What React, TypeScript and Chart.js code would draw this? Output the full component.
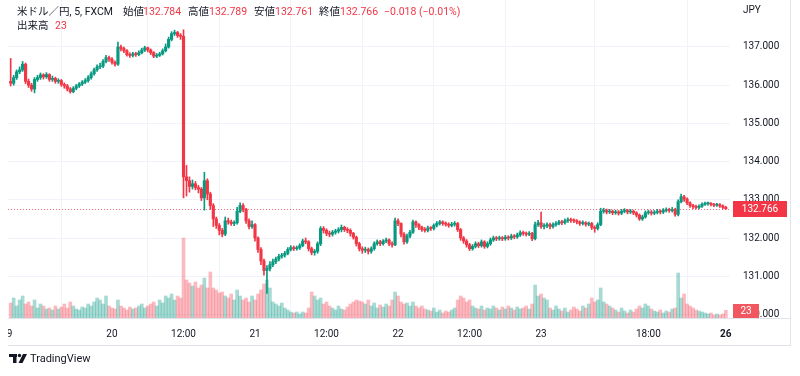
import React, { useEffect, useRef } from "react";
import { Chart, registerables } from "chart.js";

Chart.register(...registerables);

// ---- data (30-minute candles, USD/JPY, FXCM) ----
const firstOpen = 136.1;
const closes = [
  136.05, 136.2, 136.35, 136.4, 136.55, 136.1, 136.0, 135.9, 136.15, 136.2,
  136.27, 136.22, 136.28, 136.15, 136.18, 136.1, 136.12, 136.02, 135.98, 135.9,
  135.83, 135.92, 135.98, 136.03, 136.08, 136.12, 136.2, 136.3, 136.4, 136.48,
  136.5, 136.62, 136.72, 136.68, 136.6, 136.55, 137.0, 136.96, 136.9, 136.8,
  136.78, 136.82, 136.8, 136.85, 136.92, 136.98, 136.92, 136.85, 136.76, 136.78,
  136.82, 136.9, 137.0, 137.2, 137.35, 137.38, 137.3, 137.28, 133.6, 133.5,
  133.35, 133.42, 133.32, 133.28, 133.05, 133.5, 133.15, 132.85, 132.5, 132.33,
  132.2, 132.1, 132.45, 132.42, 132.38, 132.4, 132.7, 132.85, 132.75, 132.45,
  132.3, 132.35, 132.0, 131.7, 131.4, 131.15, 131.2, 131.3, 131.38, 131.45,
  131.52, 131.55, 131.6, 131.7, 131.75, 131.72, 131.74, 131.8, 131.92, 131.9,
  131.72, 131.62, 131.65, 131.85, 132.25, 132.2, 132.12, 132.1, 132.15, 132.18,
  132.22, 132.28, 132.22, 132.2, 132.12, 132.02, 131.85, 131.72, 131.68, 131.7,
  131.65, 131.72, 131.85, 131.9, 131.85, 131.92, 131.95, 131.85, 131.82, 132.45,
  132.38, 132.1, 131.9, 132.05, 132.15, 132.42, 132.35, 132.28, 132.22, 132.2,
  132.26, 132.25, 132.33, 132.38, 132.42, 132.38, 132.36, 132.33, 132.36, 132.38,
  132.22, 132.0, 131.92, 131.82, 131.72, 131.78, 131.85, 131.8, 131.9, 131.78,
  131.85, 131.95, 132.0, 131.98, 132.0, 131.98, 132.02, 132.0, 132.05, 132.03,
  132.08, 132.14, 132.12, 132.1, 132.12, 131.98, 132.35, 132.4, 132.3, 132.32,
  132.35, 132.3, 132.35, 132.38, 132.42, 132.4, 132.45, 132.48, 132.46, 132.45,
  132.42, 132.38, 132.4, 132.36, 132.38, 132.28, 132.25, 132.35, 132.7, 132.72,
  132.68, 132.7, 132.66, 132.68, 132.65, 132.7, 132.72, 132.68, 132.7, 132.66,
  132.6, 132.5, 132.55, 132.66, 132.68, 132.65, 132.67, 132.7, 132.68, 132.72,
  132.74, 132.72, 132.75, 132.62, 132.95, 133.08, 133.02, 132.92, 132.85, 132.82,
  132.8, 132.83, 132.88, 132.9, 132.9, 132.88, 132.86, 132.87, 132.84, 132.8,
  132.766,
];
const highs = [
  136.7, 136.26, 136.4, 136.48, 136.62, 136.58, 136.16, 136.05, 136.2, 136.26,
  136.32, 136.3, 136.33, 136.3, 136.24, 136.21, 136.17, 136.15, 136.06, 136.02,
  135.94, 135.96, 136.02, 136.07, 136.12, 136.17, 136.25, 136.35, 136.45, 136.53,
  136.58, 136.67, 136.78, 136.76, 136.72, 136.64, 137.13, 137.05, 137.0, 136.93,
  136.85, 136.86, 136.86, 136.9, 136.97, 137.02, 137.0, 136.95, 136.88, 136.83,
  136.86, 136.95, 137.08, 137.26, 137.4, 137.44, 137.41, 137.35, 137.45, 133.9,
  133.6, 133.52, 133.48, 133.38, 133.32, 133.72, 133.55, 133.2, 132.9, 132.55,
  132.38, 132.25, 132.55, 132.52, 132.47, 132.45, 132.8, 132.92, 132.9, 132.78,
  132.5, 132.45, 132.38, 132.03, 131.75, 131.45, 131.28, 131.38, 131.45, 131.5,
  131.57, 131.6, 131.65, 131.75, 131.8, 131.79, 131.79, 131.85, 131.97, 132.0,
  131.93, 131.76, 131.7, 131.9, 132.3, 132.3, 132.24, 132.18, 132.2, 132.23,
  132.27, 132.34, 132.31, 132.27, 132.24, 132.15, 132.05, 131.89, 131.77, 131.76,
  131.74, 131.77, 131.9, 131.95, 131.94, 131.96, 132.0, 131.98, 131.9, 132.52,
  132.5, 132.4, 132.14, 132.1, 132.2, 132.47, 132.45, 132.38, 132.31, 132.27,
  132.31, 132.3, 132.37, 132.43, 132.46, 132.45, 132.42, 132.4, 132.41, 132.43,
  132.41, 132.25, 132.04, 131.96, 131.86, 131.83, 131.9, 131.89, 131.95, 131.93,
  131.9, 132.0, 132.05, 132.04, 132.05, 132.04, 132.07, 132.06, 132.1, 132.09,
  132.13, 132.19, 132.18, 132.16, 132.17, 132.15, 132.42, 132.46, 132.68, 132.38,
  132.4, 132.39, 132.4, 132.43, 132.46, 132.46, 132.5, 132.53, 132.52, 132.5,
  132.48, 132.45, 132.45, 132.43, 132.42, 132.41, 132.32, 132.4, 132.78, 132.78,
  132.76, 132.75, 132.73, 132.73, 132.72, 132.75, 132.77, 132.75, 132.75, 132.73,
  132.69, 132.63, 132.6, 132.71, 132.73, 132.72, 132.72, 132.75, 132.74, 132.77,
  132.79, 132.78, 132.8, 132.78, 133.0, 133.15, 133.12, 133.05, 132.95, 132.88,
  132.86, 132.87, 132.92, 132.94, 132.94, 132.93, 132.91, 132.91, 132.9, 132.87,
  132.83,
];
const lows = [
  135.98, 136.0, 136.15, 136.3, 136.36, 136.04, 135.94, 135.84, 135.8, 136.1,
  136.15, 136.16, 136.18, 136.1, 136.1, 136.05, 136.05, 135.97, 135.92, 135.85,
  135.79, 135.8, 135.88, 135.94, 135.99, 136.04, 136.08, 136.16, 136.26, 136.36,
  136.43, 136.46, 136.58, 136.62, 136.55, 136.5, 136.52, 136.9, 136.85, 136.76,
  136.73, 136.74, 136.75, 136.77, 136.82, 136.88, 136.87, 136.8, 136.72, 136.72,
  136.75, 136.79, 136.87, 136.97, 137.16, 137.3, 137.25, 137.2, 133.05, 133.1,
  133.2, 133.28, 133.26, 133.18, 132.98, 132.73, 133.0, 132.75, 132.3, 132.25,
  132.08, 132.03, 132.06, 132.36, 132.33, 132.32, 132.36, 132.66, 132.68, 132.38,
  132.24, 132.25, 131.92, 131.62, 131.3, 131.03, 130.55, 131.14, 131.25, 131.33,
  131.4, 131.47, 131.5, 131.56, 131.66, 131.67, 131.68, 131.7, 131.77, 131.85,
  131.66, 131.56, 131.55, 131.6, 131.8, 132.13, 132.06, 132.03, 132.05, 132.1,
  132.13, 132.16, 132.17, 132.14, 132.05, 131.97, 131.79, 131.66, 131.6, 131.62,
  131.58, 131.6, 131.68, 131.81, 131.8, 131.81, 131.88, 131.8, 131.76, 131.8,
  132.32, 132.03, 131.84, 131.86, 132.0, 132.12, 132.28, 132.22, 132.17, 132.15,
  132.16, 132.2, 132.21, 132.29, 132.34, 132.33, 132.31, 132.28, 132.29, 132.31,
  132.17, 131.94, 131.86, 131.76, 131.67, 131.68, 131.74, 131.75, 131.76, 131.73,
  131.74, 131.81, 131.91, 131.93, 131.94, 131.93, 131.94, 131.95, 131.96, 131.98,
  131.99, 132.04, 132.07, 132.05, 132.06, 131.93, 131.95, 132.3, 132.25, 132.24,
  132.27, 132.24, 132.26, 132.31, 132.34, 132.35, 132.36, 132.41, 132.41, 132.4,
  132.37, 132.33, 132.34, 132.31, 132.32, 132.22, 132.15, 132.21, 132.32, 132.65,
  132.63, 132.64, 132.61, 132.62, 132.6, 132.61, 132.66, 132.63, 132.64, 132.61,
  132.55, 132.46, 132.46, 132.52, 132.62, 132.6, 132.61, 132.63, 132.63, 132.64,
  132.68, 132.67, 132.68, 132.57, 132.58, 132.92, 132.96, 132.87, 132.8, 132.77,
  132.76, 132.76, 132.8, 132.85, 132.86, 132.84, 132.82, 132.83, 132.8, 132.76,
  132.75,
];
const volumes = [
  45, 60, 36, 54, 66, 42, 48, 36, 54, 30,
  42, 36, 27, 30, 24, 36, 27, 33, 42, 30,
  48, 36, 27, 24, 33, 30, 42, 36, 48, 60,
  54, 42, 66, 36, 30, 27, 54, 36, 30, 24,
  33, 27, 30, 36, 42, 30, 36, 42, 48, 36,
  54, 45, 66, 60, 72, 54, 66, 60, 240, 114,
  105, 96, 108, 90, 99, 120, 90, 138, 90, 84,
  75, 78, 66, 60, 72, 54, 84, 66, 54, 60,
  48, 66, 54, 72, 84, 102, 114, 90, 48, 42,
  36, 45, 30, 24, 18, 15, 18, 12, 18, 15,
  30, 78, 66, 54, 60, 42, 48, 36, 30, 24,
  36, 27, 24, 33, 42, 48, 54, 51, 48, 42,
  54, 36, 45, 30, 39, 33, 42, 36, 54, 78,
  66, 48, 42, 45, 36, 48, 36, 30, 36, 27,
  24, 21, 30, 18, 24, 15, 21, 18, 24, 30,
  54, 66, 60, 48, 54, 36, 30, 27, 36, 24,
  30, 27, 36, 30, 24, 33, 27, 36, 30, 24,
  33, 27, 30, 36, 27, 42, 99, 66, 72, 60,
  54, 30, 24, 36, 27, 21, 30, 18, 24, 33,
  27, 21, 36, 30, 42, 60, 48, 54, 90, 48,
  42, 36, 30, 24, 18, 30, 21, 15, 24, 18,
  27, 36, 30, 42, 36, 27, 21, 18, 24, 15,
  21, 18, 27, 30, 135, 60, 72, 42, 36, 30,
  24, 21, 18, 15, 12, 15, 9, 12, 9, 12,
  23,
];

// time axis (bar index of each label) and price axis ticks
const timeTickIndex = [0, 34, 58, 82, 106, 130, 154, 178, 214, 240];
const timeTickLabels = ["19", "20", "12:00", "21", "12:00", "22", "12:00", "23", "18:00", "26"];
const priceTicks = [130, 131, 132, 133, 134, 135, 136, 137];

// legend values
const symbolTitle = "米ドル／円, 5, FXCM";
const legendOpen = "132.784";
const legendHigh = "132.789";
const legendLow = "132.761";
const legendClose = "132.766";
const legendChange = "−0.018 (−0.01%)";
const lastPrice = 132.766;

const UP = "#089981";
const DOWN = "#f23645";
const VOL_UP = "rgba(8,153,129,0.36)";
const VOL_DOWN = "rgba(242,54,69,0.34)";
const TEXT = "#131722";
const GRID = "#f0f3fa";
const BORDER = "#e0e3eb";
const FONT = "Roboto, 'Noto Sans CJK JP', sans-serif";

export default function App() {
  const ref = useRef<HTMLCanvasElement | null>(null);

  useEffect(() => {
    const opens = closes.map((c, i) => (i === 0 ? firstOpen : closes[i - 1]));
    const isUp = closes.map((c, i) => c >= opens[i]);
    const colors = isUp.map((u) => (u ? UP : DOWN));
    const volColors = isUp.map((u) => (u ? VOL_UP : VOL_DOWN));

    const overlay = {
      id: "tvOverlay",
      beforeDatasetsDraw(chart: any) {
        const { ctx, chartArea, scales } = chart;
        const y = Math.round(scales.y.getPixelForValue(lastPrice)) + 0.5;
        ctx.save();
        ctx.strokeStyle = "rgba(242,54,69,0.75)";
        ctx.lineWidth = 1;
        ctx.setLineDash([1, 2]);
        ctx.beginPath();
        ctx.moveTo(chartArea.left, y);
        ctx.lineTo(chartArea.right, y);
        ctx.stroke();
        ctx.restore();
      },
      afterDraw(chart: any) {
        const { ctx, chartArea, scales } = chart;
        ctx.save();
        // borders
        ctx.strokeStyle = BORDER;
        ctx.lineWidth = 1;
        ctx.beginPath();
        ctx.moveTo(chartArea.left, chartArea.bottom + 0.5);
        ctx.lineTo(791, chartArea.bottom + 0.5);
        ctx.moveTo(790.5, 0);
        ctx.lineTo(790.5, 346);
        ctx.moveTo(8, 345.5);
        ctx.lineTo(791, 345.5);
        ctx.stroke();

        // price axis labels
        ctx.fillStyle = TEXT;
        ctx.font = `10px ${FONT}`;
        ctx.textBaseline = "middle";
        ctx.textAlign = "left";
        ctx.fillText("JPY", 743, 10);
        priceTicks.forEach((p) => {
          const py = scales.y.getPixelForValue(p);
          ctx.fillText(p.toFixed(3), 743, py);
        });

        // time axis labels
        ctx.save();
        ctx.beginPath();
        ctx.rect(8, chartArea.bottom + 1, 783, 26);
        ctx.clip();
        ctx.textAlign = "center";
        timeTickIndex.forEach((v, i) => {
          let px = scales.x.getPixelForValue(v);
          if (i === 0) px -= 4;
          ctx.font = i === timeTickLabels.length - 1 ? `bold 10px ${FONT}` : `10px ${FONT}`;
          ctx.fillText(timeTickLabels[i], px, chartArea.bottom + 16);
        });
        ctx.restore();

        // price tag
        const ly = scales.y.getPixelForValue(lastPrice);
        ctx.fillStyle = DOWN;
        ctx.fillRect(733, Math.round(ly) - 8, 54, 16);
        ctx.fillStyle = "#ffffff";
        ctx.font = `10px ${FONT}`;
        ctx.textAlign = "center";
        ctx.fillText(lastPrice.toFixed(3), 760, Math.round(ly) + 0.5);

        // volume tag
        const lastVol = volumes[volumes.length - 1];
        ctx.fillStyle = "#f0575f";
        ctx.fillRect(733, 304, 26, 14);
        ctx.fillStyle = "#ffffff";
        ctx.fillText(String(lastVol), 746, 311.5);

        // legend header
        ctx.textAlign = "left";
        ctx.font = `10.5px ${FONT}`;
        const ly1 = 12;
        ctx.fillStyle = TEXT;
        ctx.fillText(symbolTitle, 17, ly1);
        const parts: [string, number, string][] = [
          ["始値", 123, TEXT], [legendOpen, 143, DOWN],
          ["高値", 188, TEXT], [legendHigh, 209, DOWN],
          ["安値", 254, TEXT], [legendLow, 275, DOWN],
          ["終値", 319, TEXT], [legendClose, 340, DOWN],
          [legendChange, 384, DOWN],
        ];
        parts.forEach(([t, x, c]) => {
          ctx.fillStyle = c;
          ctx.fillText(t, x, ly1);
        });
        ctx.fillStyle = TEXT;
        ctx.fillText("出来高", 17, 26);
        ctx.fillStyle = DOWN;
        ctx.fillText(String(lastVol), 55, 26);

        // TradingView logo
        ctx.fillStyle = TEXT;
        ctx.fillRect(9, 354, 8, 3);
        ctx.fillRect(13, 354, 3.5, 9);
        ctx.beginPath();
        ctx.arc(19.5, 355.5, 1.7, 0, Math.PI * 2);
        ctx.fill();
        ctx.beginPath();
        ctx.moveTo(23, 354);
        ctx.lineTo(27, 354);
        ctx.lineTo(22.5, 363);
        ctx.lineTo(18.5, 363);
        ctx.closePath();
        ctx.fill();
        ctx.font = `11px ${FONT}`;
        ctx.textBaseline = "middle";
        ctx.fillText("TradingView", 30, 359);
        ctx.restore();
      },
    };

    const chart = new Chart(ref.current as HTMLCanvasElement, {
      type: "bar",
      data: {
        datasets: [
          {
            data: volumes.map((v, i) => ({ x: i, y: v })),
            yAxisID: "yVol",
            backgroundColor: volColors,
            barThickness: 3,
            grouped: false,
            order: 3,
          } as any,
          {
            data: closes.map((c, i) => ({ x: i, y: [lows[i], highs[i]] })),
            yAxisID: "y",
            backgroundColor: colors,
            barThickness: 1,
            grouped: false,
            order: 2,
          } as any,
          {
            data: closes.map((c, i) => ({ x: i, y: [opens[i], c] })),
            yAxisID: "y",
            backgroundColor: colors,
            barThickness: 2.5,
            minBarLength: 1,
            grouped: false,
            order: 1,
          } as any,
        ],
      },
      options: {
        animation: false,
        responsive: false,
        maintainAspectRatio: false,
        events: [],
        layout: { padding: { left: 8, right: 9, top: 0, bottom: 0 } },
        plugins: { legend: { display: false }, tooltip: { enabled: false } },
        scales: {
          x: {
            type: "linear",
            min: -0.9,
            max: 241.4,
            offset: false,
            border: { display: false },
            grid: { color: GRID, drawTicks: false },
            ticks: { display: false },
            afterBuildTicks: (s: any) => {
              s.ticks = timeTickIndex.map((v) => ({ value: v }));
            },
            afterFit: (s: any) => {
              s.height = 58;
            },
          },
          y: {
            position: "right",
            min: 129.906,
            max: 138.23,
            border: { display: false },
            grid: { color: GRID, drawTicks: false },
            ticks: { display: false },
            afterBuildTicks: (s: any) => {
              s.ticks = priceTicks.map((v) => ({ value: v }));
            },
            afterFit: (s: any) => {
              s.width = 61;
            },
          },
          yVol: { display: false, min: 0, max: 954 },
        },
      } as any,
      plugins: [overlay],
    });
    return () => chart.destroy();
  }, []);

  return (
    <div style={{ position: "fixed", left: 0, top: 0, width: 800, height: 376, background: "#ffffff" }}>
      <canvas ref={ref} width={800} height={376} style={{ display: "block", width: 800, height: 376 }} />
    </div>
  );
}
